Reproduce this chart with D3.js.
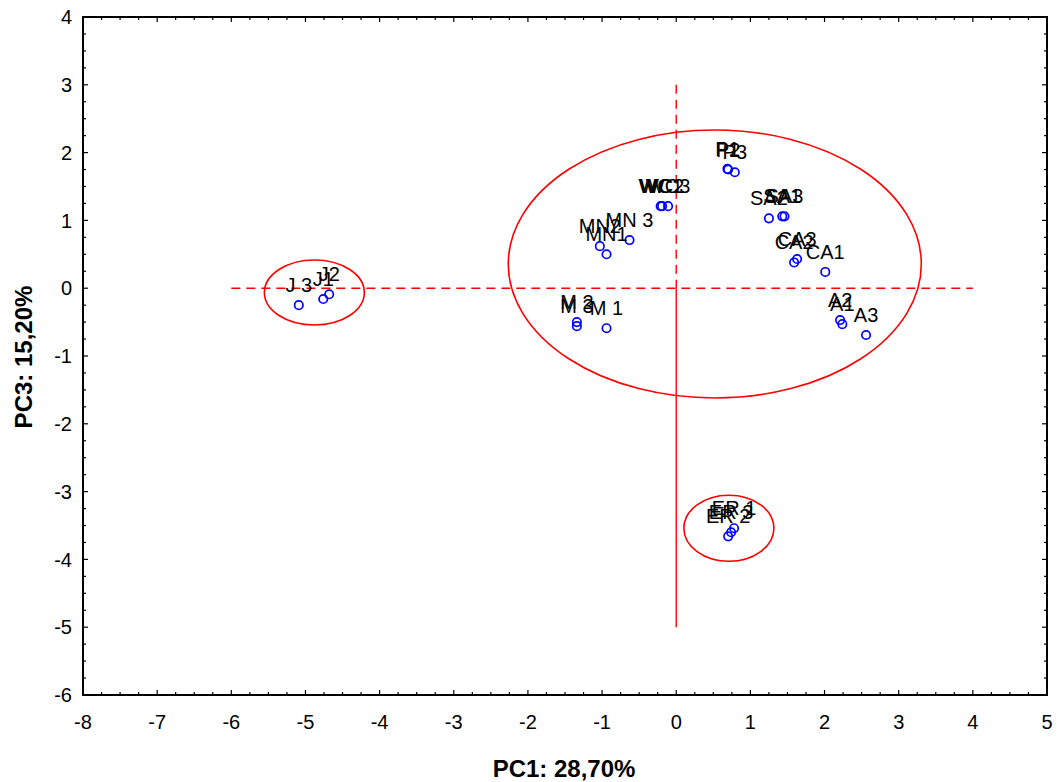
<!DOCTYPE html>
<html>
<head>
<meta charset="utf-8">
<script src="https://cdn.jsdelivr.net/npm/d3@7"></script>
<style>
  body { margin: 0; background: #fff; }
  svg { display: block; font-family: Arial, "Liberation Sans", sans-serif; }
</style>
</head>
<body>
<svg id="chart" width="1060" height="782"></svg>
<script>
// Sample scores on the first and third principal components
const labels = ["J 3", "J1", "J2",
  "MN2", "MN1", "MN 3",
  "WC1", "WC2", "WC3",
  "P1", "P2", "P3",
  "SA2", "SA1", "SA3",
  "CA2", "CA3", "CA1",
  "A2", "A1", "A3",
  "M 2", "M 3", "M 1",
  "ER 1", "ER 2", "ER 3"];
const pc1 = [-5.09, -4.76, -4.68,
  -1.03, -0.94, -0.63,
  -0.21, -0.19, -0.11,
  0.69, 0.70, 0.79,
  1.25, 1.43, 1.46,
  1.59, 1.63, 2.01,
  2.21, 2.24, 2.56,
  -1.34, -1.34, -0.94,
  0.78, 0.70, 0.74];
const pc3 = [-0.25, -0.16, -0.09,
  0.62, 0.50, 0.71,
  1.21, 1.21, 1.21,
  1.76, 1.75, 1.71,
  1.03, 1.06, 1.06,
  0.38, 0.43, 0.24,
  -0.47, -0.53, -0.69,
  -0.50, -0.56, -0.59,
  -3.54, -3.66, -3.60];

// Group ellipses: centre and radii in data units
const ellipseCx = [0.52, -4.88, 0.71];
const ellipseCy = [0.357, -0.063, -3.54];
const ellipseRx = [2.785, 0.674, 0.607];
const ellipseRy = [1.976, 0.48, 0.487];

const xTicks = [-8, -7, -6, -5, -4, -3, -2, -1, 0, 1, 2, 3, 4, 5];
const yTicks = [-6, -5, -4, -3, -2, -1, 0, 1, 2, 3, 4];
const xTitle = "PC1: 28,70%";
const yTitle = "PC3: 15,20%";

const svg = d3.select("#chart");
const plotL = 83, plotR = 1047, plotT = 17, plotB = 695;

const x = d3.scaleLinear().domain([-8, 5]).range([plotL, plotR]);
const y = d3.scaleLinear().domain([-6, 4]).range([plotB, plotT]);

const minorX = d3.range(-8, 5.001, 0.25);
const minorY = d3.range(-6, 4.001, 0.25);

// Reference lines through the origin
const red = "#ff0000";
svg.append("line")
  .attr("x1", x(-6)).attr("x2", x(4))
  .attr("y1", y(0)).attr("y2", y(0))
  .attr("stroke", red).attr("stroke-width", 1.4)
  .attr("stroke-dasharray", "9,6");
svg.append("line")
  .attr("x1", x(0)).attr("x2", x(0))
  .attr("y1", y(3)).attr("y2", y(0))
  .attr("stroke", red).attr("stroke-width", 1.4)
  .attr("stroke-dasharray", "9,6");
svg.append("line")
  .attr("x1", x(0)).attr("x2", x(0))
  .attr("y1", y(0)).attr("y2", y(-5))
  .attr("stroke", red).attr("stroke-width", 1.4);

// Group ellipses
svg.selectAll("ellipse.group")
  .data(d3.range(ellipseCx.length))
  .join("ellipse")
  .attr("class", "group")
  .attr("cx", i => x(ellipseCx[i]))
  .attr("cy", i => y(ellipseCy[i]))
  .attr("rx", i => x(ellipseRx[i]) - x(0))
  .attr("ry", i => y(0) - y(ellipseRy[i]))
  .attr("fill", "none")
  .attr("stroke", red)
  .attr("stroke-width", 1.6);

// Points
const idx = d3.range(labels.length);
svg.selectAll("circle.pt")
  .data(idx)
  .join("circle")
  .attr("class", "pt")
  .attr("cx", i => x(pc1[i]))
  .attr("cy", i => y(pc3[i]))
  .attr("r", 4.2)
  .attr("fill", "none")
  .attr("stroke", "#0000ff")
  .attr("stroke-width", 1.7);

// Point labels, centred above each point
svg.selectAll("text.lbl")
  .data(idx)
  .join("text")
  .attr("class", "lbl")
  .attr("x", i => x(pc1[i]))
  .attr("y", i => y(pc3[i]) - 13)
  .attr("text-anchor", "middle")
  .attr("font-size", 20)
  .attr("fill", "#000")
  .text(i => labels[i]);

// Frame
svg.append("rect")
  .attr("x", plotL).attr("y", plotT)
  .attr("width", plotR - plotL).attr("height", plotB - plotT)
  .attr("fill", "none").attr("stroke", "#000").attr("stroke-width", 2);

// Inward ticks on all four sides
const tickG = svg.append("g").attr("stroke", "#000").attr("stroke-width", 1.2);
function tickLen(v) { return Math.abs(v - Math.round(v)) < 1e-6 ? 5 : 3; }
minorX.forEach(v => {
  const L = tickLen(v);
  tickG.append("line").attr("x1", x(v)).attr("x2", x(v)).attr("y1", plotB).attr("y2", plotB - L);
  tickG.append("line").attr("x1", x(v)).attr("x2", x(v)).attr("y1", plotT).attr("y2", plotT + L);
});
minorY.forEach(v => {
  const L = tickLen(v);
  tickG.append("line").attr("y1", y(v)).attr("y2", y(v)).attr("x1", plotL).attr("x2", plotL + L);
  tickG.append("line").attr("y1", y(v)).attr("y2", y(v)).attr("x1", plotR).attr("x2", plotR - L);
});

// Tick labels
const fmt = d => d < 0 ? "-" + Math.abs(d) : String(d);
svg.append("g").selectAll("text")
  .data(xTicks)
  .join("text")
  .attr("x", d => x(d))
  .attr("y", plotB + 34)
  .attr("text-anchor", "middle")
  .attr("font-size", 20)
  .text(fmt);
svg.append("g").selectAll("text")
  .data(yTicks)
  .join("text")
  .attr("x", plotL - 11)
  .attr("y", d => y(d))
  .attr("dy", "0.36em")
  .attr("text-anchor", "end")
  .attr("font-size", 20)
  .text(fmt);

// Axis titles
svg.append("text")
  .attr("x", 564)
  .attr("y", 777)
  .attr("text-anchor", "middle")
  .attr("font-size", 24).attr("font-weight", "bold")
  .text(xTitle);
svg.append("text")
  .attr("transform", `translate(32,357) rotate(-90)`)
  .attr("text-anchor", "middle")
  .attr("font-size", 24).attr("font-weight", "bold")
  .text(yTitle);
</script>
</body>
</html>
